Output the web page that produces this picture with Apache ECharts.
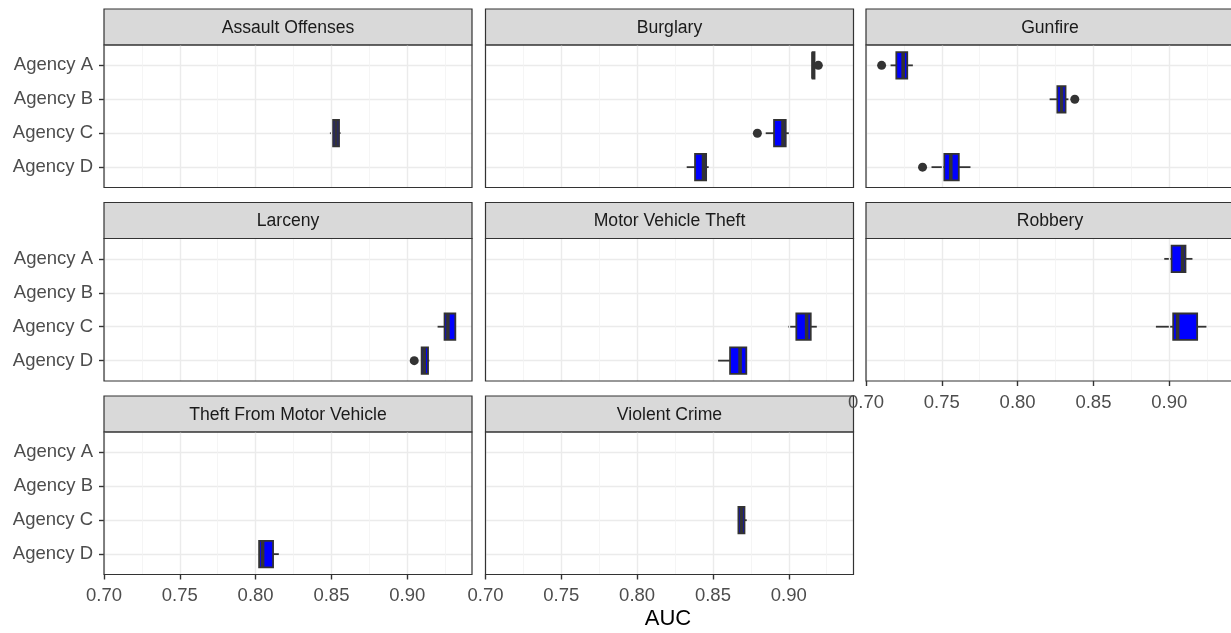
<!DOCTYPE html>
<html>
<head>
<meta charset="utf-8">
<script src="https://cdn.jsdelivr.net/npm/echarts@6/dist/echarts.min.js"></script>
<style>
  html, body { margin: 0; background: #fff; }
  #main { width: 1231px; height: 633px; }
</style>
</head>
<body>
<div id="main"></div>
<script>
// facet titles, in panel order (left to right, top to bottom)
const crimes = ['Assault Offenses', 'Burglary', 'Gunfire', 'Larceny',
  'Motor Vehicle Theft', 'Robbery', 'Theft From Motor Vehicle', 'Violent Crime'];
const agencies = ['Agency A', 'Agency B', 'Agency C', 'Agency D'];
const xTicks = [0.70, 0.75, 0.80, 0.85, 0.90];
const xMinorTicks = [0.725, 0.775, 0.825, 0.875, 0.925];

// box stats: [agency index, lower whisker, Q1, median, Q3, upper whisker]
const assaultBoxes = [[2, 0.849, 0.851, 0.853, 0.855, 0.856]];
const burglaryBoxes = [
  [0, 0.9155, 0.9157, 0.9160, 0.9170, 0.9175],
  [2, 0.8848, 0.8903, 0.8962, 0.8980, 0.9004],
  [3, 0.8327, 0.8382, 0.8438, 0.8455, 0.8472]
];
const gunfireBoxes = [
  [0, 0.7162, 0.7200, 0.7245, 0.7272, 0.7309],
  [1, 0.8211, 0.8262, 0.8290, 0.8316, 0.8335],
  [3, 0.7432, 0.7516, 0.7559, 0.7612, 0.7689]
];
const larcenyBoxes = [
  [2, 0.9200, 0.9246, 0.9268, 0.9317, 0.9317],
  [3, 0.9093, 0.9095, 0.9112, 0.9137, 0.9146]
];
const motorTheftBoxes = [
  [2, 0.8997, 0.9050, 0.9118, 0.9145, 0.9185],
  [3, 0.8534, 0.8613, 0.8679, 0.8720, 0.8720]
];
const robberyBoxes = [
  [0, 0.8967, 0.9015, 0.9088, 0.9107, 0.9153],
  [2, 0.8912, 0.9026, 0.9055, 0.9184, 0.9245]
];
const theftFromBoxes = [[3, 0.8023, 0.8023, 0.8046, 0.8115, 0.8153]];
const violentBoxes = [[2, 0.8666, 0.8668, 0.8688, 0.8708, 0.8723]];

// outlying points: [AUC, agency index]
const assaultOutliers = [];
const burglaryOutliers = [[0.9195, 0], [0.8793, 2]];
const gunfireOutliers = [[0.7103, 0], [0.8377, 1], [0.7373, 3]];
const larcenyOutliers = [[0.9046, 3]];
const motorTheftOutliers = [];
const robberyOutliers = [];
const theftFromOutliers = [];
const violentOutliers = [];

const panelBoxes = [assaultBoxes, burglaryBoxes, gunfireBoxes, larcenyBoxes,
  motorTheftBoxes, robberyBoxes, theftFromBoxes, violentBoxes];
const panelOutliers = [assaultOutliers, burglaryOutliers, gunfireOutliers, larcenyOutliers,
  motorTheftOutliers, robberyOutliers, theftFromOutliers, violentOutliers];

const chart = echarts.init(document.getElementById('main'));

const DARK = '#333333';
const BLUE = '#0000FF';
const GRID = '#EBEBEB';
const FONT = 'Liberation Sans, Arial, Helvetica, sans-serif';
const colLeft = [104, 485.5, 866];
const rowTop = [45, 238.5, 432];
const panelW = 368;
const panelH = 142.5;
const stripH = 36;
const BOX_W = 0.78;

// ggplot-like box: whiskers without caps, thick median
function renderBox(params, api) {
  const y = api.value(0);
  const lo = api.coord([api.value(1), y]);
  const q1 = api.coord([api.value(2), y]);
  const md = api.coord([api.value(3), y]);
  const q3 = api.coord([api.value(4), y]);
  const hi = api.coord([api.value(5), y]);
  const half = api.size([0, BOX_W])[1] / 2;
  const thin = { stroke: DARK, lineWidth: 1.8 };
  return {
    type: 'group',
    children: [
      { type: 'line', shape: { x1: lo[0], y1: lo[1], x2: q1[0], y2: q1[1] }, style: thin },
      { type: 'line', shape: { x1: q3[0], y1: q3[1], x2: hi[0], y2: hi[1] }, style: thin },
      { type: 'rect', shape: { x: q1[0], y: q1[1] - half, width: q3[0] - q1[0], height: half * 2 },
        style: { fill: BLUE, stroke: DARK, lineWidth: 1.8 } },
      { type: 'line', shape: { x1: md[0], y1: md[1] - half, x2: md[0], y2: md[1] + half },
        style: { stroke: DARK, lineWidth: 3.6 } }
    ]
  };
}

const grids = [], xAxes = [], yAxes = [], series = [], graphics = [];

crimes.forEach((name, i) => {
  const col = i % 3, row = Math.floor(i / 3);
  const left = colLeft[col], top = rowTop[row];
  const showX = i >= 5;
  const showY = col === 0;

  grids.push({ left: left, top: top, width: panelW, height: panelH,
    show: true, backgroundColor: '#fff', borderWidth: 0, outerBoundsMode: 'none' });

  xAxes.push({
    gridIndex: i, type: 'value', min: 0.7, max: 0.9427, position: 'bottom', z: 5,
    axisLine: { show: false, onZero: false },
    axisTick: { show: showX, customValues: xTicks, length: 5, lineStyle: { color: DARK, width: 1.4 } },
    axisLabel: { show: showX, customValues: xTicks, margin: 12, color: '#4D4D4D', fontSize: 18.5,
      fontFamily: FONT, formatter: v => v.toFixed(2) },
    splitLine: { show: true, lineStyle: { color: GRID, width: 1.4 } }
  });
  xAxes.push({
    gridIndex: i, type: 'value', min: 0.7, max: 0.9427, position: 'top',
    axisLine: { show: false, onZero: false },
    axisTick: { show: false, customValues: xMinorTicks },
    axisLabel: { show: false },
    splitLine: { show: true, lineStyle: { color: '#F2F2F2', width: 0.8 } }
  });
  yAxes.push({
    gridIndex: i, type: 'value', min: -0.6, max: 3.6, inverse: true, position: 'left',
    axisLine: { show: false, onZero: false },
    axisTick: { show: showY, customValues: [0, 1, 2, 3], length: 5, lineStyle: { color: DARK, width: 1.4 } },
    axisLabel: { show: showY, customValues: [0, 1, 2, 3], margin: 11, color: '#4D4D4D', fontSize: 18.5,
      fontFamily: FONT, formatter: v => agencies[v] },
    splitLine: { show: true, lineStyle: { color: GRID, width: 1.4 } }
  });

  series.push({
    type: 'custom', xAxisIndex: i * 2, yAxisIndex: i,
    renderItem: renderBox, encode: { x: [1, 2, 3, 4, 5], y: 0 },
    data: panelBoxes[i], z: 3, silent: true
  });
  series.push({
    type: 'scatter', xAxisIndex: i * 2, yAxisIndex: i,
    data: panelOutliers[i], symbolSize: 9, itemStyle: { color: DARK, opacity: 1 },
    z: 4, silent: true
  });

  // panel border on top of grid lines, and the facet strip
  graphics.push({ type: 'rect', z: 100, silent: true,
    shape: { x: left, y: top, width: panelW, height: panelH },
    style: { fill: 'none', stroke: DARK, lineWidth: 1.2 } });
  graphics.push({ type: 'rect', z: 1, silent: true,
    shape: { x: left, y: top - stripH, width: panelW, height: stripH },
    style: { fill: '#D9D9D9', stroke: DARK, lineWidth: 1.2 } });
  graphics.push({ type: 'text', z: 2, silent: true,
    x: left + panelW / 2, y: top - stripH / 2 + 1,
    style: { text: name, fill: '#1A1A1A', fontSize: 17.6, fontFamily: FONT,
      align: 'center', verticalAlign: 'middle', textAlign: 'center', textVerticalAlign: 'middle' } });
});

graphics.push({ type: 'text', z: 101, silent: true, x: 668, y: 619,
  style: { text: 'AUC', fill: '#000', fontSize: 22, fontFamily: FONT,
    align: 'center', verticalAlign: 'middle', textAlign: 'center', textVerticalAlign: 'middle' } });

chart.setOption({
  animation: false,
  backgroundColor: '#fff',
  grid: grids,
  xAxis: xAxes,
  yAxis: yAxes,
  series: series,
  graphic: graphics
});
</script>
</body>
</html>
